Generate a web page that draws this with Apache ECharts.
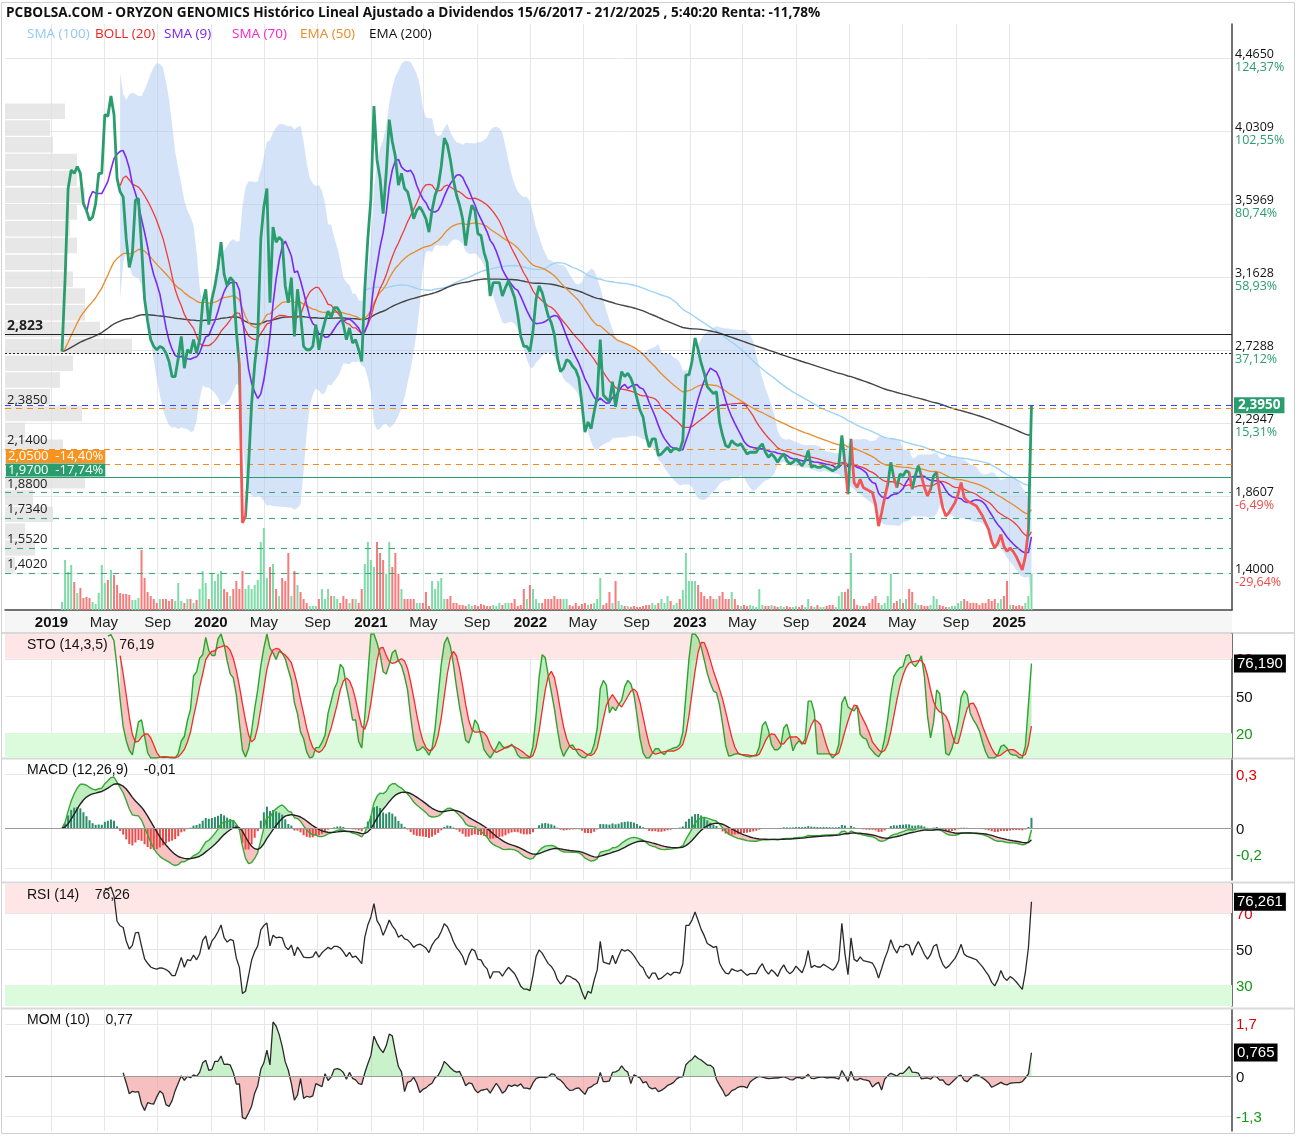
<!DOCTYPE html>
<html>
<head>
<meta charset="utf-8">
<title>Oryzon Genomics - PCBOLSA</title>
<script src="https://cdn.jsdelivr.net/npm/echarts@6.0.0/dist/echarts.min.js"></script>
<style>
html, body { margin: 0; padding: 0; background: #fff; }
#chart { width: 1298px; height: 1138px; }
</style>
</head>
<body>
<div id="chart"></div>
<script>
// cierres semanales ajustados, del 25/1/2019 al 21/2/2025
var closes = [
  2.72, 3.15, 3.69, 3.80, 3.78, 3.82, 3.78, 3.60, 3.56, 3.50,
  3.52, 3.60, 3.78, 3.78, 4.13, 4.12, 4.24, 4.13, 3.75, 3.67,
  3.64, 3.39, 3.22, 3.30, 3.62, 3.63, 3.35, 3.03, 2.90, 2.79,
  2.75, 2.73, 2.75, 2.74, 2.71, 2.66, 2.57, 2.57, 2.68, 2.81,
  2.62, 2.73, 2.71, 2.79, 2.71, 2.79, 3.01, 3.09, 2.88, 3.03,
  3.11, 3.22, 3.37, 3.18, 3.11, 3.16, 3.14, 2.84, 2.64, 1.70,
  1.74, 2.04, 2.41, 2.64, 2.81, 3.39, 3.58, 3.69, 3.01, 3.46,
  3.37, 3.40, 3.38, 3.11, 3.01, 3.16, 2.81, 3.09, 2.94, 2.75,
  2.73, 2.73, 2.75, 2.88, 2.73, 2.83, 2.90, 2.96, 2.92, 2.98,
  2.98, 2.95, 2.88, 2.79, 2.86, 2.77, 2.79, 2.73, 2.66, 3.09,
  3.39, 3.63, 4.18, 3.86, 3.75, 3.54, 3.78, 4.10, 3.97, 3.88,
  3.71, 3.78, 3.69, 3.67, 3.60, 3.51, 3.56, 3.58, 3.55, 3.51,
  3.43, 3.56, 3.65, 3.70, 3.82, 3.99, 3.95, 3.86, 3.74, 3.65,
  3.59, 3.51, 3.35, 3.49, 3.59, 3.56, 3.42, 3.41, 3.31, 3.25,
  3.05, 3.13, 3.13, 3.13, 3.05, 3.10, 3.14, 3.09, 3.04, 2.94,
  2.81, 2.75, 2.75, 2.72, 2.84, 3.03, 3.11, 3.07, 3.00, 2.93,
  2.89, 2.82, 2.68, 2.60, 2.62, 2.67, 2.66, 2.63, 2.61, 2.56,
  2.41, 2.24, 2.30, 2.26, 2.36, 2.45, 2.79, 2.46, 2.44, 2.42,
  2.54, 2.39, 2.50, 2.60, 2.57, 2.59, 2.56, 2.51, 2.44, 2.37,
  2.33, 2.22, 2.15, 2.20, 2.20, 2.10, 2.11, 2.13, 2.15, 2.12,
  2.14, 2.14, 2.13, 2.19, 2.58, 2.58, 2.66, 2.80, 2.73, 2.65,
  2.59, 2.51, 2.49, 2.47, 2.48, 2.30, 2.22, 2.16, 2.15, 2.19,
  2.17, 2.16, 2.17, 2.14, 2.11, 2.12, 2.12, 2.12, 2.15, 2.17,
  2.12, 2.09, 2.11, 2.09, 2.06, 2.09, 2.11, 2.07, 2.05, 2.06,
  2.08, 2.06, 2.04, 2.07, 2.13, 2.03, 2.04, 2.03, 2.03, 2.04,
  2.03, 2.02, 2.01, 2.02, 2.04, 2.22, 2.06, 1.87, 2.20, 1.94,
  1.91, 1.96, 1.91, 1.90, 1.89, 1.88, 1.81, 1.68, 1.76, 1.85,
  1.93, 2.06, 1.97, 1.91, 1.99, 1.98, 2.01, 2.00, 1.90, 1.98,
  2.04, 1.98, 1.91, 1.86, 1.90, 1.98, 2.00, 1.88, 1.79, 1.74,
  1.76, 1.79, 1.82, 1.87, 1.94, 1.85, 1.83, 1.82, 1.81, 1.80,
  1.77, 1.74, 1.70, 1.66, 1.59, 1.55, 1.58, 1.63, 1.56, 1.53,
  1.55, 1.53, 1.50, 1.46, 1.42, 1.50, 1.66, 2.395
];

// volumen semanal (unidades relativas)
var volume = [
  8, 50, 38, 45, 28, 17, 22, 12, 13, 12,
  8, 6, 17, 45, 27, 30, 40, 35, 25, 17,
  16, 16, 15, 10, 10, 12, 60, 32, 18, 14,
  11, 7, 11, 11, 11, 9, 11, 9, 27, 9,
  7, 11, 11, 7, 10, 21, 39, 27, 11, 36,
  29, 36, 39, 21, 18, 14, 21, 29, 21, 39,
  21, 25, 21, 25, 30, 68, 82, 32, 43, 46,
  21, 14, 32, 29, 57, 14, 39, 25, 18, 11,
  7, 4, 4, 4, 11, 21, 11, 21, 14, 14,
  11, 7, 14, 11, 7, 11, 11, 7, 21, 46,
  68, 50, 43, 68, 57, 50, 36, 68, 43, 57,
  36, 21, 11, 11, 11, 11, 7, 7, 7, 18,
  4, 29, 21, 29, 32, 11, 11, 14, 7, 7,
  5, 5, 4, 6, 4, 5, 4, 6, 5, 4,
  4, 5, 4, 7, 5, 7, 7, 7, 11, 4,
  5, 21, 11, 25, 21, 11, 7, 7, 11, 11,
  11, 14, 11, 11, 11, 11, 5, 4, 7, 4,
  6, 7, 5, 6, 7, 11, 32, 5, 7, 18,
  7, 29, 9, 5, 4, 4, 3, 4, 3, 3,
  4, 5, 5, 7, 5, 7, 11, 7, 14, 9,
  5, 7, 11, 20, 57, 29, 29, 29, 25, 18,
  14, 11, 14, 11, 11, 14, 18, 11, 11, 18,
  11, 5, 4, 5, 4, 5, 4, 3, 21, 5,
  4, 4, 5, 4, 3, 4, 3, 4, 3, 3,
  4, 3, 5, 3, 11, 4, 3, 5, 3, 3,
  4, 5, 5, 3, 14, 18, 18, 21, 57, 11,
  5, 4, 4, 4, 7, 11, 14, 7, 5, 7,
  14, 36, 7, 9, 11, 7, 11, 21, 18, 7,
  5, 5, 4, 4, 5, 14, 11, 5, 4, 3,
  3, 4, 4, 7, 9, 11, 9, 7, 7, 7,
  5, 7, 7, 11, 9, 11, 7, 11, 14, 29,
  5, 5, 4, 5, 4, 7, 14, 36
];

// perfil de volumen por tramos de precio (0,10 cada uno, desde 1,20)
var profileBands = ['1,2','1,3','1,4','1,5','1,6','1,7','1,8','1,9','2,0','2,1','2,2','2,3','2,4','2,5','2,6','2,7','2,8','2,9',
  '3,0','3,1','3,2','3,3','3,4','3,5','3,6','3,7','3,8','3,9','4,0','4,1','4,2','4,3','4,4','4,5','4,6'];
var profileVolume = [0, 0, 10, 30, 20, 48, 28, 80, 100, 58, 20, 77, 45, 55, 68, 127, 95, 80,
  80, 68, 62, 72, 65, 72, 80, 72, 72, 48, 45, 60, 0, 0, 0, 0, 0];

// escala derecha del precio
var priceTicks = [4.4650, 4.0309, 3.5969, 3.1628, 2.7288, 2.2947, 1.8607, 1.4000];
var pctBase = 1.99;

// niveles horizontales
var refLevel = 2.823;
var startPrice = 2.715;
var lastPrice = 2.395;
var resistLevels = [2.385, 2.14];
var boxLevels = [2.05, 1.97];
var supportLevels = [1.88, 1.734, 1.552, 1.402];
var stopLevel = 1.97;

var DAY = 86400000;
var firstWeek = Date.UTC(2019, 0, 25);
var dates = closes.map(function (_, i) { return firstWeek + i * 7 * DAY; });
var xMin = firstWeek - 130.5 * DAY;
var xMax = dates[dates.length - 1] + 459 * DAY;

var gridDates = [];
for (var yy = 2019; yy <= 2025; yy++) {
  [0, 4, 8].forEach(function (m) {
    var t = Date.UTC(yy, m, 1);
    if (t <= Date.UTC(2025, 0, 1)) gridDates.push(t);
  });
}
var monthNames = ['Ene', 'Feb', 'Mar', 'Abr', 'May', 'Jun', 'Jul', 'Ago', 'Sep', 'Oct', 'Nov', 'Dic'];

var NARROW = '"Liberation Sans Narrow", "Arial Narrow", "Liberation Sans", sans-serif';
var GREEN = '#2a9d6e', RED = '#f25757';

function fmt(v, d) { return v.toFixed(d).replace('.', ','); }
function trunc2(v) { return (v < 0 ? Math.ceil(v * 100) : Math.floor(v * 100)) / 100; }

// ---- indicadores ----
function sma(a, n) {
  var out = [];
  for (var i = 0; i < a.length; i++) {
    var s = 0, ok = i >= n - 1;
    for (var k = i - n + 1; ok && k <= i; k++) { if (a[k] == null) ok = false; else s += a[k]; }
    out.push(ok ? s / n : null);
  }
  return out;
}
function ema(a, n) {
  var al = 2 / (n + 1), prev = null;
  return a.map(function (v) { prev = prev == null ? v : prev + al * (v - prev); return prev; });
}
function stdev(a, n, mean) {
  return a.map(function (_, i) {
    if (mean[i] == null) return null;
    var s = 0;
    for (var k = i - n + 1; k <= i; k++) s += (a[k] - mean[i]) * (a[k] - mean[i]);
    return Math.sqrt(s / n);
  });
}
function rsi(a, n) {
  var out = a.map(function () { return null; }), g = 0, l = 0;
  for (var i = 1; i < a.length; i++) {
    var d = a[i] - a[i - 1], up = Math.max(d, 0), dn = Math.max(-d, 0);
    if (i <= n) { g += up / n; l += dn / n; if (i === n) out[i] = 100 - 100 / (1 + g / l); }
    else { g = (g * (n - 1) + up) / n; l = (l * (n - 1) + dn) / n; out[i] = l === 0 ? 100 : 100 - 100 / (1 + g / l); }
  }
  return out;
}
function pair(a) { return a.map(function (v, i) { return [dates[i], v == null ? null : v]; }); }

// poligonos de relleno entre dos curvas, partidos en los cruces
function fillPolygons(a, b) {
  var polys = [], top = [], bot = [], sign = 0;
  function flush() {
    if (top.length > 1) polys.push({ up: sign >= 0, pts: top.concat(bot.slice().reverse()) });
    top = []; bot = [];
  }
  for (var i = 0; i < a.length; i++) {
    if (a[i] == null || b[i] == null) { flush(); sign = 0; continue; }
    var d = a[i] - b[i], s = d > 0 ? 1 : d < 0 ? -1 : sign;
    if (top.length && sign !== 0 && s !== 0 && s !== sign) {
      var d0 = a[i - 1] - b[i - 1], t = d0 / (d0 - d);
      var xc = dates[i - 1] + t * (dates[i] - dates[i - 1]), yc = a[i - 1] + t * (a[i] - a[i - 1]);
      top.push([xc, yc]); bot.push([xc, yc]); flush();
      top.push([xc, yc]); bot.push([xc, yc]);
    }
    if (s !== 0) sign = s;
    top.push([dates[i], a[i]]); bot.push([dates[i], b[i]]);
  }
  flush();
  return polys;
}

var sma9 = sma(closes, 9);
var sma100 = sma(closes, 100);
var ema50 = ema(closes, 50);
var ema200 = ema(closes, 200);
var bollMid = sma(closes, 20);
var bollDev = stdev(closes, 20, bollMid);
var bollUp = bollMid.map(function (m, i) { return m == null ? null : m + 2 * bollDev[i]; });
var bollLow = bollMid.map(function (m, i) { return m == null ? null : m - 2 * bollDev[i]; });

var rawSto = closes.map(function (c, i) {
  if (i < 13) return null;
  var w = closes.slice(i - 13, i + 1);
  var hi = Math.max.apply(null, w), lo = Math.min.apply(null, w);
  return hi === lo ? 50 : (c - lo) / (hi - lo) * 100;
});
var stoK = sma(rawSto, 3);
var stoD = sma(stoK, 5);

var ema12 = ema(closes, 12), ema26 = ema(closes, 26);
var macd = ema12.map(function (v, i) { return v - ema26[i]; });
var signal = ema(macd, 9);
var hist = macd.map(function (v, i) { return v - signal[i]; });

var rsi14 = rsi(closes, 14);
var mom = closes.map(function (c, i) { return i < 20 ? null : c - closes[i - 10]; });

// escala MACD: el cero queda a la misma altura que en el original
var macdHi = Math.max.apply(null, macd.concat(signal));
var macdMax = macdHi * 68 / 51;
var macdMin = -macdMax * 52 / 68;
var macdTicks = [macdMax - (macdMax - macdMin) * 14 / 120, 0, macdMin + (macdMax - macdMin) * 12 / 120];

// tramos en rojo de la linea de precio (cierre por debajo del stop)
var redPieces = [];
for (var i = 1; i < closes.length; i++) {
  if (closes[i] < stopLevel) {
    var last = redPieces[redPieces.length - 1];
    if (last && last.lte === dates[i - 1]) last.lte = dates[i];
    else redPieces.push({ gte: dates[i - 1], lte: dates[i], color: RED });
  }
}

var lastK = stoK[stoK.length - 1], lastRsi = rsi14[rsi14.length - 1], lastMom = mom[mom.length - 1];
var lastMacd = macd[macd.length - 1];

// ---- ejes ----
var grids = [
  { left: 5, top: 24, width: 1227, height: 586 },
  { left: 5, top: 634, width: 1227, height: 124 },
  { left: 5, top: 760, width: 1227, height: 120 },
  { left: 5, top: 884, width: 1227, height: 122 },
  { left: 5, top: 1010, width: 1227, height: 121 },
  { left: 5, top: 24 - (4.7 - 4.669) * 168, width: 1227, height: 3.5 * 168 }
];
grids.forEach(function (g) { g.outerBoundsMode = 'none'; g.containLabel = false; });

var xAxes = [0, 1, 2, 3, 4].map(function (g) {
  return {
    type: 'value', gridIndex: g, min: xMin, max: xMax, scale: true,
    axisLine: { show: g === 0, onZero: false, lineStyle: { color: '#444', width: 1.5 } },
    axisTick: { show: false, customValues: gridDates },
    splitLine: { show: true, lineStyle: { color: '#e7e7e7', width: 1 } },
    axisLabel: {
      show: g === 0, customValues: gridDates, margin: 5, hideOverlap: false,
      formatter: function (v) {
        var d = new Date(v);
        return d.getUTCMonth() === 0 ? '{y|' + d.getUTCFullYear() + '}' : '{m|' + monthNames[d.getUTCMonth()] + '}';
      },
      rich: {
        y: { fontFamily: NARROW, fontSize: 15, fontWeight: 'bold', color: '#111' },
        m: { fontFamily: NARROW, fontSize: 15, color: '#222' }
      }
    }
  };
});
xAxes.push({ type: 'value', gridIndex: 5, min: 0, max: 1227, show: false });

function sideAxis(g, min, max, ticks, fmtFn, rich) {
  return {
    type: 'value', gridIndex: g, position: 'right', min: min, max: max,
    axisLine: { show: true, onZero: false, lineStyle: { color: '#444', width: 1.5 } },
    axisTick: { show: false, customValues: ticks },
    splitLine: { show: true, lineStyle: { color: '#e7e7e7' } },
    axisLabel: { customValues: ticks, margin: 4, formatter: fmtFn, rich: rich }
  };
}
var sideRich = {
  r: { color: '#e00000', fontFamily: NARROW, fontSize: 15, padding: [3, 0, 0, 0] },
  k: { color: '#111', fontFamily: NARROW, fontSize: 15, padding: [3, 0, 0, 0] },
  g: { color: '#119911', fontFamily: NARROW, fontSize: 15, padding: [3, 0, 0, 0] },
  gb: { color: '#119911', fontFamily: NARROW, fontSize: 15, padding: [0, 0, 24, 0] }
};

var yAxes = [
  {
    type: 'value', gridIndex: 0, position: 'right', min: 1.181, max: 4.669,
    axisLine: { show: true, onZero: false, lineStyle: { color: '#444', width: 1.5 } },
    axisTick: { show: false, customValues: priceTicks },
    splitLine: { show: true, lineStyle: { color: '#e7e7e7' } },
    axisLabel: {
      customValues: priceTicks, margin: 3, padding: [6, 0, 0, 0],
      formatter: function (v) {
        var p = trunc2((v / pctBase - 1) * 100);
        return '{v|' + fmt(v, 4) + '}\n{' + (p < 0 ? 'n' : 'p') + '|' + fmt(p, 2) + '%}';
      },
      rich: {
        v: { color: '#111', fontFamily: 'Open Sans', fontSize: 12.5, lineHeight: 13 },
        p: { color: GREEN, fontFamily: 'Open Sans', fontSize: 12.5, lineHeight: 13 },
        n: { color: '#f04848', fontFamily: 'Open Sans', fontSize: 12.5, lineHeight: 13 }
      }
    }
  },
  { type: 'value', gridIndex: 0, min: 0, max: 586, show: false },
  sideAxis(1, 0, 100, [20, 50, 80], function (v) {
    return v === 80 ? '{r|80}' : v === 20 ? '{g|20}' : '{k|50}';
  }, sideRich),
  sideAxis(2, macdMin, macdMax, macdTicks, function (v) {
    if (v === 0) return '{k|0}';
    return v > 0 ? '{r|' + fmt(v, 1) + '}' : '{gb|' + fmt(v, 1) + '}';
  }, sideRich),
  sideAxis(3, 18.3, 86.1, [30, 50, 70], function (v) {
    return v === 70 ? '{r|70}' : v === 30 ? '{g|30}' : '{k|50}';
  }, sideRich),
  sideAxis(4, -1.763, 2.147, [-1.3, 0, 1.7], function (v) {
    return v > 0 ? '{r|' + fmt(v, 1) + '}' : v < 0 ? '{g|' + fmt(v, 1) + '}' : '{k|0}';
  }, sideRich),
  { type: 'category', gridIndex: 5, data: profileBands, show: false, boundaryGap: true }
];

// ---- series ----
var series = [];
function line(name, xi, yi, data, color, width, z, extra) {
  var s = {
    type: 'line', name: name, xAxisIndex: xi, yAxisIndex: yi, data: pair(data),
    showSymbol: false, symbol: 'none', silent: true, z: z,
    lineStyle: { color: color, width: width }
  };
  for (var key in extra) s[key] = extra[key];
  series.push(s);
  return s;
}
function fillSeries(xi, yi, polys, upColor, downColor, z) {
  series.push({
    type: 'custom', xAxisIndex: xi, yAxisIndex: yi, silent: true, z: z, clip: true,
    encode: { x: 0, y: 1 },
    data: polys.map(function (p, k) { return [p.pts[0][0], p.pts[0][1], k]; }),
    renderItem: function (params, api) {
      var p = polys[api.value(2)];
      return {
        type: 'polygon',
        shape: { points: p.pts.map(function (q) { return api.coord(q); }) },
        style: { fill: p.up ? upColor : downColor }
      };
    }
  });
}
function boxMark(value, text, bg) {
  return {
    yAxis: value, lineStyle: { color: 'rgba(0,0,0,0)', width: 1 },
    label: { show: true, position: 'end', distance: 2, formatter: text, color: '#fff', backgroundColor: bg,
      fontFamily: NARROW, fontSize: 15, padding: [1, 3], lineHeight: 16 }
  };
}
function zeroMark() {
  return { yAxis: 0, lineStyle: { color: '#9a9a9a', type: 'solid', width: 1.2 }, label: { show: false } };
}

// perfil de volumen
series.push({
  type: 'bar', xAxisIndex: 5, yAxisIndex: 6, data: profileVolume, barCategoryGap: '8%',
  itemStyle: { color: '#e1e1e1', opacity: 0.8 }, silent: true, z: 1
});

// bandas de Bollinger
fillSeries(0, 0, fillPolygons(bollUp, bollLow), 'rgba(170,200,240,0.5)', 'rgba(170,200,240,0.5)', 2);

// volumen
series.push({
  type: 'bar', xAxisIndex: 0, yAxisIndex: 1, barWidth: 2, silent: true, z: 2,
  data: volume.map(function (v, i) {
    var up = i === 0 || closes[i] >= closes[i - 1];
    return { value: [dates[i], v], itemStyle: { color: up ? '#7fdca8' : '#f77b7b' } };
  })
});

line('SMA (100)', 0, 0, sma100, '#9fd3f6', 1.4, 3);
line('EMA (200)', 0, 0, ema200, '#444', 1.4, 3);
line('EMA (50)', 0, 0, ema50, '#e98b2c', 1.3, 3);
line('BOLL (20)', 0, 0, bollMid, '#f03c3c', 1.3, 3);
line('SMA (9)', 0, 0, sma9, '#7b2af2', 1.6, 3);

function leftLabel(text) {
  return { show: true, position: 'insideStartTop', distance: 2, formatter: text, color: '#222',
    fontFamily: 'Open Sans', fontSize: 13 };
}
var priceMarks = [
  { yAxis: refLevel, lineStyle: { color: '#222', type: 'solid', width: 1.2 },
    label: { show: true, position: 'insideStartTop', distance: 2, formatter: fmt(refLevel, 3), color: '#222',
      fontFamily: 'Open Sans', fontSize: 14, fontWeight: 'bold' } },
  { yAxis: startPrice, lineStyle: { color: '#222', type: [2, 2], width: 1 }, label: { show: false } },
  { yAxis: lastPrice, lineStyle: { color: '#3344ff', type: [6, 5], width: 1.2 },
    label: { show: true, position: 'end', distance: 2, formatter: fmt(lastPrice, 4), color: '#fff',
      backgroundColor: GREEN, fontFamily: 'Open Sans', fontWeight: 'bold', fontSize: 13.5, padding: [1, 4] } }
];
resistLevels.forEach(function (v) {
  priceMarks.push({ yAxis: v, lineStyle: { color: '#f08c1a', type: [6, 5], width: 1.2 }, label: leftLabel(fmt(v, 4)) });
});
boxLevels.forEach(function (v, k) {
  var p = trunc2((v / lastPrice - 1) * 100);
  var col = k === 0 ? '#f7931e' : GREEN;
  priceMarks.push({ yAxis: v,
    lineStyle: k === 0 ? { color: '#f08c1a', type: [6, 5], width: 1.2 } : { color: GREEN, type: 'solid', width: 1.2 },
    label: { show: true, position: 'insideStartTop', distance: 1, formatter: fmt(v, 4) + '  ' + fmt(p, 2) + '%',
      color: '#fff', backgroundColor: col, fontFamily: 'Open Sans', fontSize: 13, padding: [0, 2, 0, 2] } });
});
supportLevels.forEach(function (v) {
  priceMarks.push({ yAxis: v, lineStyle: { color: '#3aa982', type: [6, 6], width: 1.1 }, label: leftLabel(fmt(v, 4)) });
});

// precio: el color lo pone el visualMap (verde / rojo bajo el stop)
var priceSeries = line('Precio', 0, 0, closes, null, 2.8, 5, {
  lineStyle: { width: 2.8 },
  markLine: { silent: true, symbol: 'none', animation: false, data: priceMarks }
});
var priceIndex = series.indexOf(priceSeries);

// STO
fillSeries(1, 2, fillPolygons(stoK, stoD), 'rgba(110,215,110,0.45)', 'rgba(240,120,120,0.45)', 2);
line('%K', 1, 2, stoK, '#2ea12e', 1.4, 4, {
  markArea: { silent: true, data: [
    [{ yAxis: 80, itemStyle: { color: '#ffe6e6' } }, { yAxis: 100 }],
    [{ yAxis: 0, itemStyle: { color: '#dcfadc' } }, { yAxis: 20 }]
  ] },
  markLine: { silent: true, symbol: 'none', animation: false, data: [boxMark(lastK, fmt(lastK, 3), '#000')] }
});
line('%D', 1, 2, stoD, '#f22b2b', 1.3, 4);

// MACD
series.push({
  type: 'bar', xAxisIndex: 2, yAxisIndex: 3, barWidth: 2, silent: true, z: 2,
  data: hist.map(function (v, i) { return { value: [dates[i], v], itemStyle: { color: v >= 0 ? '#2b8c68' : '#f04848' } }; })
});
fillSeries(2, 3, fillPolygons(macd, signal), 'rgba(110,215,110,0.45)', 'rgba(240,120,120,0.45)', 2);
line('MACD', 2, 3, macd, '#35a835', 1.4, 4, {
  markLine: { silent: true, symbol: 'none', animation: false, data: [zeroMark()] }
});
line('Señal', 2, 3, signal, '#222', 1.4, 4);

// RSI
line('RSI', 3, 4, rsi14, '#2a2a2a', 1.3, 4, {
  markArea: { silent: true, data: [
    [{ yAxis: 70, itemStyle: { color: '#ffe6e6' } }, { yAxis: 86.1 }],
    [{ yAxis: 18.3, itemStyle: { color: '#dcfadc' } }, { yAxis: 30 }]
  ] },
  markLine: { silent: true, symbol: 'none', animation: false, data: [boxMark(lastRsi, fmt(lastRsi, 3), '#000')] }
});

// MOM
var zeros = mom.map(function (v) { return v == null ? null : 0; });
fillSeries(4, 5, fillPolygons(mom, zeros), 'rgba(150,230,150,0.5)', 'rgba(240,140,140,0.55)', 2);
line('MOM', 4, 5, mom, '#2a2a2a', 1.3, 4, {
  markLine: { silent: true, symbol: 'none', animation: false,
    data: [zeroMark(), boxMark(lastMom, fmt(lastMom, 3), '#000')] }
});

// ---- textos ----
function txt(x, y, text, color, size, weight, family) {
  return { type: 'text', x: x, y: y, z: 100, silent: true,
    style: { text: text, fill: color, fontSize: size, fontWeight: weight || 'normal', fontFamily: family || 'Open Sans', verticalAlign: 'middle' } };
}
var legendItems = [
  ['SMA (100)', '#8fcaf5', 27], ['BOLL (20)', '#f01e1e', 95], ['SMA (9)', '#7a22f0', 164],
  ['SMA (70)', '#ff22cc', 232], ['EMA (50)', '#ec8a26', 300], ['EMA (200)', '#111', 369]
];
var graphics = [
  { type: 'rect', z: -10, silent: true, shape: { x: 5, y: 611, width: 1227, height: 21 }, style: { fill: '#f6f6f6' } },
  { type: 'rect', z: -10, silent: true, shape: { x: 2, y: 632, width: 1292, height: 2 }, style: { fill: '#d9d9d9' } },
  { type: 'rect', z: -10, silent: true, shape: { x: 2, y: 757.5, width: 1292, height: 2 }, style: { fill: '#d9d9d9' } },
  { type: 'rect', z: -10, silent: true, shape: { x: 2, y: 881.5, width: 1292, height: 2 }, style: { fill: '#d9d9d9' } },
  { type: 'rect', z: -10, silent: true, shape: { x: 2, y: 1007.5, width: 1292, height: 2 }, style: { fill: '#d9d9d9' } },
  { type: 'rect', z: -10, silent: true, shape: { x: 1.5, y: 2.5, width: 1293, height: 1131 }, style: { fill: 'none', stroke: '#d0d0d0', lineWidth: 1 } },
  txt(6, 13, 'PCBOLSA.COM - ORYZON GENOMICS Histórico Lineal Ajustado a Dividendos 15/6/2017 - 21/2/2025 , 5:40:20 Renta: -11,78%', '#111', 13.6, 'bold'),
  txt(27, 645, 'STO (14,3,5)   ' + fmt(lastK, 2), '#111', 14, 'normal', NARROW),
  txt(27, 770, 'MACD (12,26,9)    ' + fmt(lastMacd, 2), '#111', 14, 'normal', NARROW),
  txt(27, 895, 'RSI (14)    ' + fmt(lastRsi, 2), '#111', 14, 'normal', NARROW),
  txt(27, 1020, 'MOM (10)    ' + fmt(lastMom, 2), '#111', 14, 'normal', NARROW)
];
legendItems.forEach(function (it) { graphics.push(txt(it[2], 34, it[0], it[1], 13.5)); });

var chart = echarts.init(document.getElementById('chart'));
chart.setOption({
  animation: false,
  backgroundColor: '#fff',
  grid: grids,
  xAxis: xAxes,
  yAxis: yAxes,
  visualMap: [{
    type: 'piecewise', show: false, seriesIndex: priceIndex, dimension: 0,
    pieces: redPieces, outOfRange: { color: GREEN }
  }],
  graphic: graphics,
  series: series
});
</script>
</body>
</html>
